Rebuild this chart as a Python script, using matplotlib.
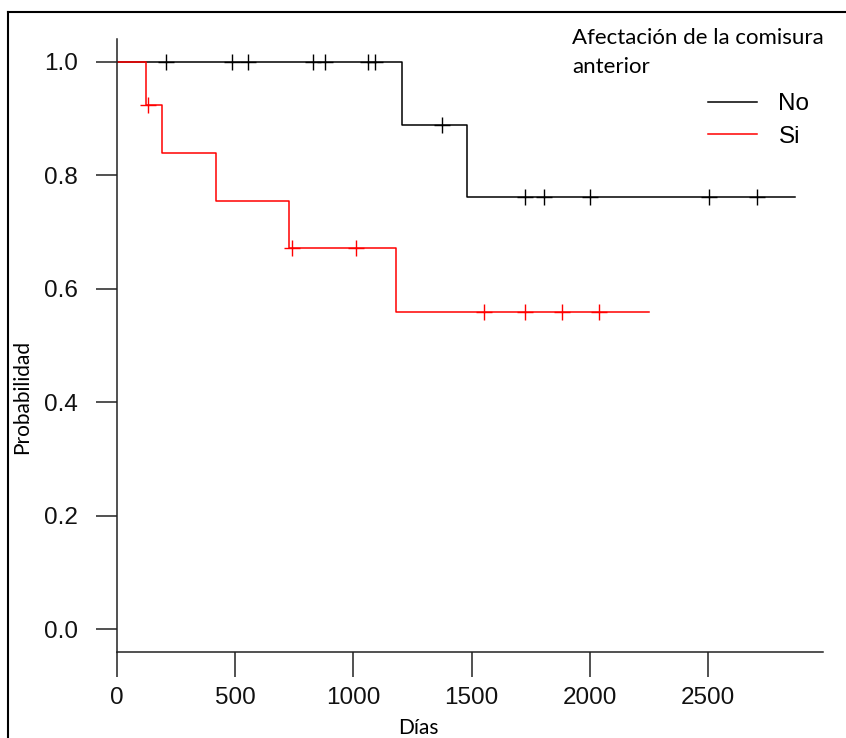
import matplotlib.pyplot as plt
from matplotlib.lines import Line2D

# Kaplan-Meier curves (days)
no_event_days = [1204, 1479]
no_surv = [1.0, 0.889, 0.762]
no_censor_days = [206, 488, 555, 830, 880, 1063, 1091, 1376, 1726, 1807, 2001, 2503, 2707]
no_last_day = 2868

si_event_days = [124, 192, 419, 729, 1181]
si_surv = [1.0, 0.923, 0.839, 0.755, 0.671, 0.559]
si_censor_days = [130, 742, 1011, 1554, 1725, 1882, 2040]
si_last_day = 2249

groups = ['No', 'Si']
colors = ['#000000', '#ff0000']
x_ticks = [0, 500, 1000, 1500, 2000, 2500]
y_ticks = [0.0, 0.2, 0.4, 0.6, 0.8, 1.0]


def level_at(day, events, surv):
    k = sum(1 for e in events if e <= day)
    return surv[k]


def draw_curve(ax, events, surv, censors, last, color):
    xs = [0] + events + [last]
    ys = surv + [surv[-1]]
    ax.step(xs, ys, where='post', color=color, lw=1.1)
    cy = [level_at(c, events, surv) for c in censors]
    ax.plot(censors, cy, ls='none', marker='+', ms=12, mew=1.0, color=color)


fig = plt.figure(figsize=(8.46, 7.38), dpi=100)
ax = fig.add_axes([117 / 846, 86 / 738, 706 / 846, 613 / 738])

draw_curve(ax, no_event_days, no_surv, no_censor_days, no_last_day, colors[0])
draw_curve(ax, si_event_days, si_surv, si_censor_days, si_last_day, colors[1])

ax.set_xlim(0, 2986)
ax.set_ylim(-0.04, 1.04)
ax.set_xticks(x_ticks)
ax.set_xticklabels([str(t) for t in x_ticks])
ax.set_yticks(y_ticks)
ax.set_yticklabels(['%.1f' % t for t in y_ticks])
for s in ['top', 'right']:
    ax.spines[s].set_visible(False)
for s in ['left', 'bottom']:
    ax.spines[s].set_color('#222222')
    ax.spines[s].set_linewidth(1.1)
ax.tick_params(axis='both', length=15, width=1.1, color='#222222',
               labelsize=17.5, labelcolor='#111111')
ax.tick_params(axis='x', length=18, pad=7)
ax.tick_params(axis='y', pad=13)
for lab in ax.get_xticklabels() + ax.get_yticklabels():
    lab.set_family('Liberation Sans')

fig.text(418 / 846, 0, 'Días', ha='center', va='bottom', fontsize=15, family='Lato')
fig.text(22 / 846, 341 / 738, 'Probabilidad', ha='center', va='center', rotation=90,
         fontsize=15, family='Lato')

fig.text(572 / 846, 1 - 28 / 738, 'Afectación de la comisura\nanterior', ha='left', va='top',
         fontsize=16, family='Lato', linespacing=1.55)
handles = [Line2D([], [], color=c, lw=1.1) for c in colors]
leg = ax.legend(handles, groups, loc='upper left', bbox_to_anchor=(708 / 846, 1 - 93 / 738),
                bbox_transform=fig.transFigure, frameon=False, handlelength=2.0,
                handletextpad=0.9, labelspacing=0.45, borderaxespad=0, borderpad=0,
                prop={'family': 'Liberation Sans', 'size': 17.5})

# outer frame of the screenshot
fig.add_artist(Line2D([8 / 846, 8 / 846], [0, 1 - 12 / 738], color='black', lw=1.5,
                      transform=fig.transFigure))
fig.add_artist(Line2D([8 / 846, 1], [1 - 12 / 738, 1 - 12 / 738], color='black', lw=1.5,
                      transform=fig.transFigure))

fig.savefig('out.png', dpi=100)
